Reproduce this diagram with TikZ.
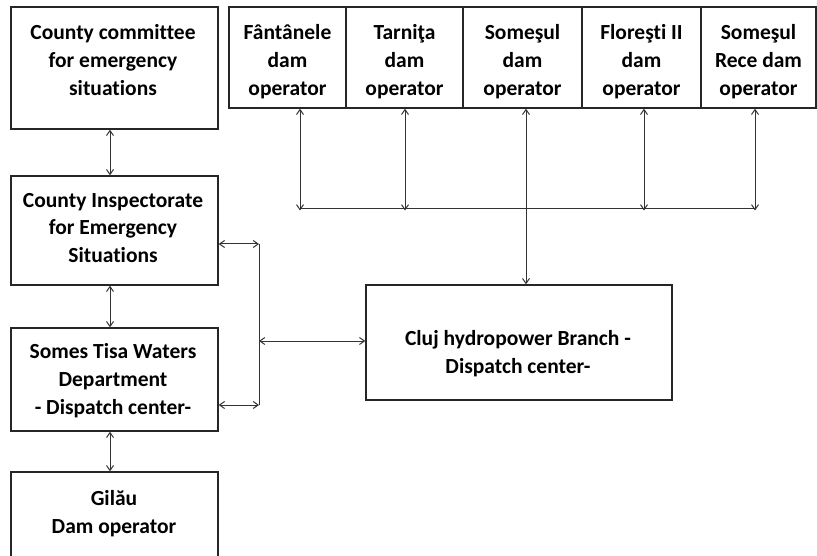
\documentclass[tikz,border=0pt]{standalone}
\usepackage{fontspec}
\setmainfont{Carlito}[Ligatures={NoCommon}]
\usetikzlibrary{arrows.meta}
\begin{document}
\begin{tikzpicture}[x=1bp,y=-1bp,
  box/.style={draw=black!85, line width=1.4bp, inner sep=0pt},
  txt/.style={align=center, font=\bfseries\fontsize{21.6}{28}\selectfont, inner sep=0pt, text=black},
  link/.style={draw=black!80, line width=1bp, {Straight Barb[length=5bp,width=7bp]}-{Straight Barb[length=5bp,width=7bp]}},
  plain/.style={draw=black!80, line width=1bp}]
\useasboundingbox[fill=white] (0,0) rectangle (817,556);
% left column boxes
\node[box, minimum width=207bp, minimum height=122bp] (cc) at (114.5,68) {};
\node[box, minimum width=207bp, minimum height=109bp] (ins) at (114.5,230.5) {};
\node[box, minimum width=207bp, minimum height=103bp] (sw) at (114.5,379.5) {};
\node[box, minimum width=207bp, minimum height=98bp] (gil) at (114.5,521) {};
% top row cells
\node[box, minimum width=117bp, minimum height=101bp] (f) at (287.5,57.5) {};
\node[box, minimum width=117bp, minimum height=101bp] (t) at (404.5,57.5) {};
\node[box, minimum width=119bp, minimum height=101bp] (s) at (522.5,57.5) {};
\node[box, minimum width=119bp, minimum height=101bp] (fl) at (641.5,57.5) {};
\node[box, minimum width=115bp, minimum height=101bp] (sr) at (758.5,57.5) {};
% Cluj box
\node[box, minimum width=306bp, minimum height=115bp] (cluj) at (519,342.5) {};
% texts
\node[txt] (tcc) at (113,60) {County committee\\for emergency\\situations};
\node[txt] (tins) at (113,228) {County Inspectorate\\for Emergency\\Situations};
\node[txt] (tsw) at (113,381) {Somes Tisa Waters\\Department\\- Dispatch center-};
\node[txt] (tgil) at (114,514) {Gilău\\Dam operator};
\node[txt] (tf) at (287.5,61.5) {Fântânele\\dam\\operator};
\node[txt] (tt) at (404.5,61.5) {Tarniţa\\dam\\operator};
\node[txt] (ts) at (522.5,61.5) {Someşul\\dam\\operator};
\node[txt] (tfl) at (641.5,61.5) {Floreşti II\\dam\\operator};
\node[txt] (tsr) at (758.5,61.5) {Someşul\\Rece dam\\operator};
\node[txt] (tcluj) at (518,354) {Cluj hydropower Branch -\\Dispatch center-};
% bus coordinates
\coordinate (bf) at (300,209);
\coordinate (bt) at (405,209);
\coordinate (bfl) at (644,209);
\coordinate (bsr) at (755,209);
\coordinate (xs) at (526,0);
\draw[plain] (bf) -- (bsr);
\draw[link] (bf |- f.south) -- ([yshift=-1.5bp]bf);
\draw[link] (bt |- t.south) -- ([yshift=-1.5bp]bt);
\draw[link] (bfl |- fl.south) -- ([yshift=-1.5bp]bfl);
\draw[link] (bsr |- sr.south) -- ([yshift=-1.5bp]bsr);
\draw[link] (xs |- s.south) -- (xs |- cluj.north);
% left column links
\coordinate (lx) at (110,0);
\draw[link] (lx |- cc.south) -- (lx |- ins.north);
\draw[link] (lx |- ins.south) -- (lx |- sw.north);
\draw[link] (lx |- sw.south) -- (lx |- gil.north);
% vertical connector
\coordinate (v1) at (259,244);
\coordinate (v2) at (259,405);
\coordinate (v3) at (259,341);
\draw[plain] (v1) -- (v2);
\draw[link] (ins.east |- v1) -- (v1);
\draw[link] (sw.east |- v2) -- (v2);
\draw[link] (v3) -- (cluj.west |- v3);
\end{tikzpicture}
\end{document}
